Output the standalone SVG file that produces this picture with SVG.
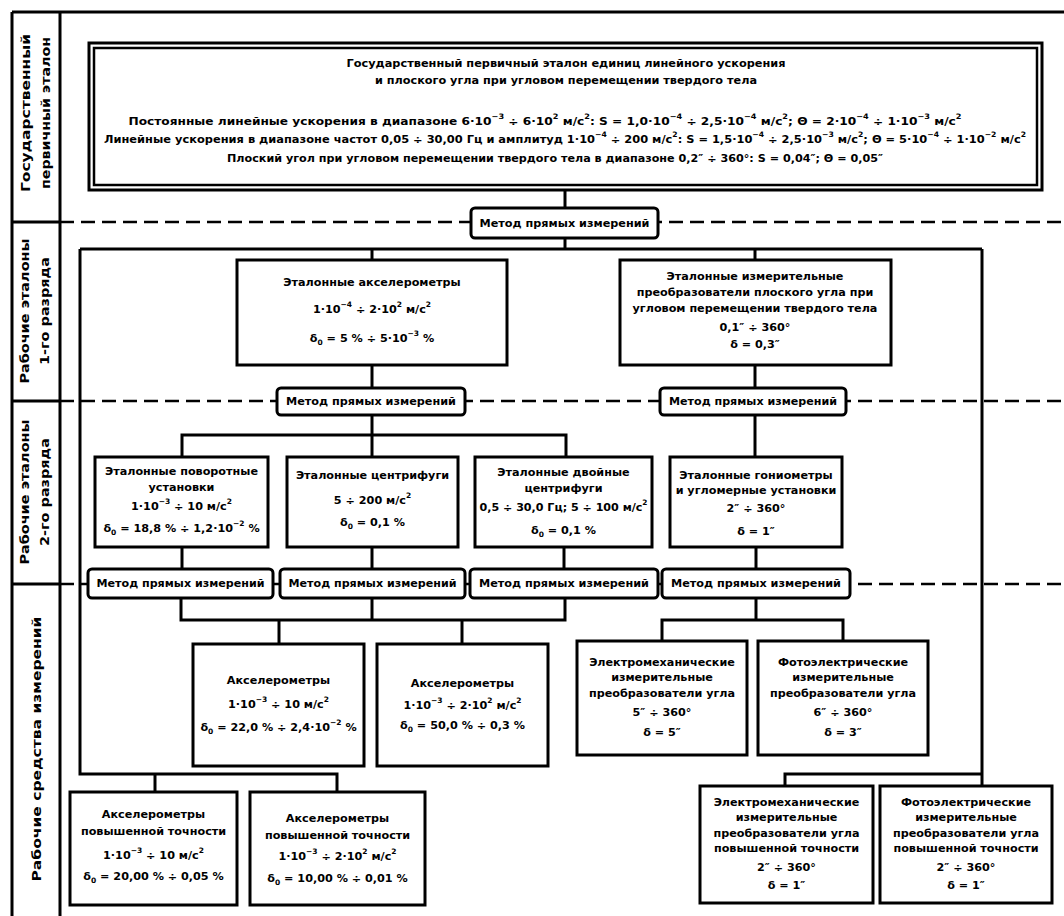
<svg xmlns="http://www.w3.org/2000/svg" width="1064" height="916" viewBox="0 0 1064 916">
<style>
.t{font-family:"DejaVu Sans","Liberation Sans",sans-serif;font-weight:bold;font-size:11.2px;text-anchor:middle;dominant-baseline:central;fill:#000}
.lbl{font-family:"DejaVu Sans","Liberation Sans",sans-serif;font-weight:bold;font-size:13px;text-anchor:middle;dominant-baseline:central;fill:#000}
.sup{font-size:7.5px;baseline-shift:super}
.sub{font-size:7.5px;baseline-shift:sub}
.box{fill:#fff;stroke:#000;stroke-width:3}
.mb{fill:#fff;stroke:#000;stroke-width:3}
.ln{fill:none;stroke:#000;stroke-width:3}
.fr{fill:none;stroke:#000;stroke-width:3}
.dash{fill:none;stroke:#000;stroke-width:2.5;stroke-dasharray:14 7}
</style>
<rect x="0" y="0" width="1064" height="916" fill="#fff"/>
<g id="frame">
<line class="fr" x1="12" y1="12" x2="1064" y2="12"/>
<line class="fr" x1="12" y1="12" x2="12" y2="916"/>
<line class="fr" x1="60" y1="12" x2="60" y2="916"/>
<line class="fr" x1="12" y1="222" x2="60" y2="222"/>
<line class="fr" x1="12" y1="401" x2="60" y2="401"/>
<line class="fr" x1="12" y1="584" x2="60" y2="584"/>
<line class="dash" x1="60" y1="222" x2="1064" y2="222"/>
<line class="dash" x1="60" y1="401" x2="1064" y2="401"/>
<line class="dash" x1="60" y1="584" x2="1064" y2="584"/>
</g>
<g id="row-labels">
<text class="lbl" transform="translate(25,113) rotate(-90)" textLength="158" lengthAdjust="spacingAndGlyphs">Государственный</text>
<text class="lbl" transform="translate(45,113) rotate(-90)" textLength="152" lengthAdjust="spacingAndGlyphs">первичный эталон</text>
<text class="lbl" transform="translate(24,311) rotate(-90)" textLength="145" lengthAdjust="spacingAndGlyphs">Рабочие эталоны</text>
<text class="lbl" transform="translate(44,311) rotate(-90)" textLength="108" lengthAdjust="spacingAndGlyphs">1-го разряда</text>
<text class="lbl" transform="translate(24,492) rotate(-90)" textLength="145" lengthAdjust="spacingAndGlyphs">Рабочие эталоны</text>
<text class="lbl" transform="translate(44,492) rotate(-90)" textLength="108" lengthAdjust="spacingAndGlyphs">2-го разряда</text>
<text class="lbl" transform="translate(36,749) rotate(-90)" textLength="265" lengthAdjust="spacingAndGlyphs">Рабочие средства измерений</text>
</g>
<g id="connectors">
<polyline class="ln" points="565,190 565,208"/>
<polyline class="ln" points="565,238 565,249"/>
<polyline class="ln" points="80,249 982,249"/>
<polyline class="ln" points="372,249 372,260"/>
<polyline class="ln" points="755,249 755,260"/>
<polyline class="ln" points="80,249 80,774 337,774 337,792"/>
<polyline class="ln" points="155,774 155,792"/>
<polyline class="ln" points="982,249 982,786"/>
<polyline class="ln" points="982,774 785,774 785,786"/>
<polyline class="ln" points="372,365 372,388"/>
<polyline class="ln" points="755,365 755,388"/>
<polyline class="ln" points="372,415 372,457"/>
<polyline class="ln" points="182,457 182,435 566,435 566,457"/>
<polyline class="ln" points="755,415 755,457"/>
<polyline class="ln" points="182,547 182,569"/>
<polyline class="ln" points="372,547 372,569"/>
<polyline class="ln" points="564,547 564,569"/>
<polyline class="ln" points="756,547 756,569"/>
<polyline class="ln" points="181,598 181,620 565,620 565,598"/>
<polyline class="ln" points="372,598 372,620"/>
<polyline class="ln" points="279,620 279,644"/>
<polyline class="ln" points="462,620 462,644"/>
<polyline class="ln" points="756,598 756,620"/>
<polyline class="ln" points="662,641 662,620 843,620 843,641"/>
</g>
<g id="node-primary">
<rect x="89" y="43" width="953" height="147" fill="#fff" stroke="#000" stroke-width="3"/>
<rect x="94" y="48" width="943" height="137" fill="none" stroke="#000" stroke-width="2.5"/>
<text class="t" x="566" y="63" textLength="439" lengthAdjust="spacingAndGlyphs">Государственный первичный эталон единиц линейного ускорения</text>
<text class="t" x="566" y="80" textLength="382" lengthAdjust="spacingAndGlyphs">и плоского угла при угловом перемещении твердого тела</text>
<text class="t" x="545" y="121" textLength="833" lengthAdjust="spacingAndGlyphs">Постоянные линейные ускорения в диапазоне 6·10<tspan class="sup">−3</tspan> ÷ 6·10<tspan class="sup">2</tspan> м/с<tspan class="sup">2</tspan>: S = 1,0·10<tspan class="sup">−4</tspan> ÷ 2,5·10<tspan class="sup">−4</tspan> м/с<tspan class="sup">2</tspan>; Θ = 2·10<tspan class="sup">−4</tspan> ÷ 1·10<tspan class="sup">−3</tspan> м/с<tspan class="sup">2</tspan></text>
<text class="t" x="565" y="139" textLength="922" lengthAdjust="spacingAndGlyphs">Линейные ускорения в диапазоне частот 0,05 ÷ 30,00 Гц и амплитуд 1·10<tspan class="sup">−4</tspan> ÷ 200 м/с<tspan class="sup">2</tspan>: S = 1,5·10<tspan class="sup">−4</tspan> ÷ 2,5·10<tspan class="sup">−3</tspan> м/с<tspan class="sup">2</tspan>; Θ = 5·10<tspan class="sup">−4</tspan> ÷ 1·10<tspan class="sup">−2</tspan> м/с<tspan class="sup">2</tspan></text>
<text class="t" x="555" y="158" textLength="656" lengthAdjust="spacingAndGlyphs">Плоский угол при угловом перемещении твердого тела в диапазоне 0,2″ ÷ 360°: S = 0,04″; Θ = 0,05″</text>
</g>
<g id="method-0">
<rect class="mb" x="471" y="208" width="187" height="30" rx="4"/>
<text class="t" x="564.5" y="223" textLength="170" lengthAdjust="spacingAndGlyphs">Метод прямых измерений</text>
</g>
<g id="node-ref-accel">
<rect class="box" x="237" y="260" width="270" height="105"/>
<text class="t" x="372" y="282">Эталонные акселерометры</text>
<text class="t" x="372" y="309">1·10<tspan class="sup">−4</tspan> ÷ 2·10<tspan class="sup">2</tspan> м/с<tspan class="sup">2</tspan></text>
<text class="t" x="372" y="338">δ<tspan class="sub">0</tspan> = 5 % ÷ 5·10<tspan class="sup">−3</tspan> %</text>
</g>
<g id="node-ref-angle">
<rect class="box" x="620" y="260" width="271" height="105"/>
<text class="t" x="755" y="276">Эталонные измерительные</text>
<text class="t" x="755" y="292">преобразователи плоского угла при</text>
<text class="t" x="755" y="308">угловом перемещении твердого тела</text>
<text class="t" x="755" y="327">0,1″ ÷ 360°</text>
<text class="t" x="755" y="344">δ = 0,3″</text>
</g>
<g id="method-1a">
<rect class="mb" x="277" y="388" width="188" height="27" rx="4"/>
<text class="t" x="371" y="401.5" textLength="170" lengthAdjust="spacingAndGlyphs">Метод прямых измерений</text>
</g>
<g id="method-1b">
<rect class="mb" x="660" y="388" width="186" height="27" rx="4"/>
<text class="t" x="753" y="401.5" textLength="168" lengthAdjust="spacingAndGlyphs">Метод прямых измерений</text>
</g>
<g id="node-rotary">
<rect class="box" x="95" y="457" width="173" height="90"/>
<text class="t" x="181.5" y="471">Эталонные поворотные</text>
<text class="t" x="181.5" y="487">установки</text>
<text class="t" x="181.5" y="506">1·10<tspan class="sup">−3</tspan> ÷ 10 м/с<tspan class="sup">2</tspan></text>
<text class="t" x="181.5" y="528">δ<tspan class="sub">0</tspan> = 18,8 % ÷ 1,2·10<tspan class="sup">−2</tspan> %</text>
</g>
<g id="node-centrifuge">
<rect class="box" x="287" y="457" width="171" height="90"/>
<text class="t" x="372.5" y="475">Эталонные центрифуги</text>
<text class="t" x="372.5" y="500">5 ÷ 200 м/с<tspan class="sup">2</tspan></text>
<text class="t" x="372.5" y="522">δ<tspan class="sub">0</tspan> = 0,1 %</text>
</g>
<g id="node-double-centrifuge">
<rect class="box" x="475" y="457" width="177" height="90"/>
<text class="t" x="563.5" y="472">Эталонные двойные</text>
<text class="t" x="563.5" y="488">центрифуги</text>
<text class="t" x="563.5" y="507" textLength="168" lengthAdjust="spacingAndGlyphs">0,5 ÷ 30,0 Гц; 5 ÷ 100 м/с<tspan class="sup">2</tspan></text>
<text class="t" x="563.5" y="530">δ<tspan class="sub">0</tspan> = 0,1 %</text>
</g>
<g id="node-goniometer">
<rect class="box" x="670" y="457" width="172" height="90"/>
<text class="t" x="756" y="475">Эталонные гониометры</text>
<text class="t" x="756" y="490">и угломерные установки</text>
<text class="t" x="756" y="508">2″ ÷ 360°</text>
<text class="t" x="756" y="531">δ = 1″</text>
</g>
<g id="method-2a">
<rect class="mb" x="88" y="569" width="185" height="29" rx="4"/>
<text class="t" x="180.5" y="583.5" textLength="168" lengthAdjust="spacingAndGlyphs">Метод прямых измерений</text>
</g>
<g id="method-2b">
<rect class="mb" x="280" y="569" width="185" height="29" rx="4"/>
<text class="t" x="372.5" y="583.5" textLength="168" lengthAdjust="spacingAndGlyphs">Метод прямых измерений</text>
</g>
<g id="method-2c">
<rect class="mb" x="470" y="569" width="188" height="29" rx="4"/>
<text class="t" x="564" y="583.5" textLength="170" lengthAdjust="spacingAndGlyphs">Метод прямых измерений</text>
</g>
<g id="method-2d">
<rect class="mb" x="662" y="569" width="188" height="29" rx="4"/>
<text class="t" x="756" y="583.5" textLength="170" lengthAdjust="spacingAndGlyphs">Метод прямых измерений</text>
</g>
<g id="node-accel-1">
<rect class="box" x="193" y="644" width="171" height="122"/>
<text class="t" x="278.5" y="680">Акселерометры</text>
<text class="t" x="278.5" y="704">1·10<tspan class="sup">−3</tspan> ÷ 10 м/с<tspan class="sup">2</tspan></text>
<text class="t" x="278.5" y="727">δ<tspan class="sub">0</tspan> = 22,0 % ÷ 2,4·10<tspan class="sup">−2</tspan> %</text>
</g>
<g id="node-accel-2">
<rect class="box" x="377" y="644" width="171" height="122"/>
<text class="t" x="462.5" y="683">Акселерометры</text>
<text class="t" x="462.5" y="705">1·10<tspan class="sup">−3</tspan> ÷ 2·10<tspan class="sup">2</tspan> м/с<tspan class="sup">2</tspan></text>
<text class="t" x="462.5" y="725">δ<tspan class="sub">0</tspan> = 50,0 % ÷ 0,3 %</text>
</g>
<g id="node-em-angle">
<rect class="box" x="577" y="641" width="170" height="114"/>
<text class="t" x="662" y="662">Электромеханические</text>
<text class="t" x="662" y="677">измерительные</text>
<text class="t" x="662" y="693">преобразователи угла</text>
<text class="t" x="662" y="712">5″ ÷ 360°</text>
<text class="t" x="662" y="732">δ = 5″</text>
</g>
<g id="node-pe-angle">
<rect class="box" x="758" y="641" width="170" height="114"/>
<text class="t" x="843" y="662">Фотоэлектрические</text>
<text class="t" x="843" y="677">измерительные</text>
<text class="t" x="843" y="693">преобразователи угла</text>
<text class="t" x="843" y="712">6″ ÷ 360°</text>
<text class="t" x="843" y="732">δ = 3″</text>
</g>
<g id="node-accel-hp-1">
<rect class="box" x="70" y="792" width="167" height="113"/>
<text class="t" x="153.5" y="814">Акселерометры</text>
<text class="t" x="153.5" y="831">повышенной точности</text>
<text class="t" x="153.5" y="855">1·10<tspan class="sup">−3</tspan> ÷ 10 м/с<tspan class="sup">2</tspan></text>
<text class="t" x="153.5" y="876">δ<tspan class="sub">0</tspan> = 20,00 % ÷ 0,05 %</text>
</g>
<g id="node-accel-hp-2">
<rect class="box" x="250" y="792" width="175" height="113"/>
<text class="t" x="337.5" y="818">Акселерометры</text>
<text class="t" x="337.5" y="835">повышенной точности</text>
<text class="t" x="337.5" y="856">1·10<tspan class="sup">−3</tspan> ÷ 2·10<tspan class="sup">2</tspan> м/с<tspan class="sup">2</tspan></text>
<text class="t" x="337.5" y="878">δ<tspan class="sub">0</tspan> = 10,00 % ÷ 0,01 %</text>
</g>
<g id="node-em-angle-hp">
<rect class="box" x="700" y="786" width="173" height="117"/>
<text class="t" x="786.5" y="802">Электромеханические</text>
<text class="t" x="786.5" y="817">измерительные</text>
<text class="t" x="786.5" y="833">преобразователи угла</text>
<text class="t" x="786.5" y="848">повышенной точности</text>
<text class="t" x="786.5" y="867">2″ ÷ 360°</text>
<text class="t" x="786.5" y="885">δ = 1″</text>
</g>
<g id="node-pe-angle-hp">
<rect class="box" x="880" y="786" width="172" height="117"/>
<text class="t" x="966" y="802">Фотоэлектрические</text>
<text class="t" x="966" y="817">измерительные</text>
<text class="t" x="966" y="833">преобразователи угла</text>
<text class="t" x="966" y="848">повышенной точности</text>
<text class="t" x="966" y="867">2″ ÷ 360°</text>
<text class="t" x="966" y="885">δ = 1″</text>
</g>
</svg>
